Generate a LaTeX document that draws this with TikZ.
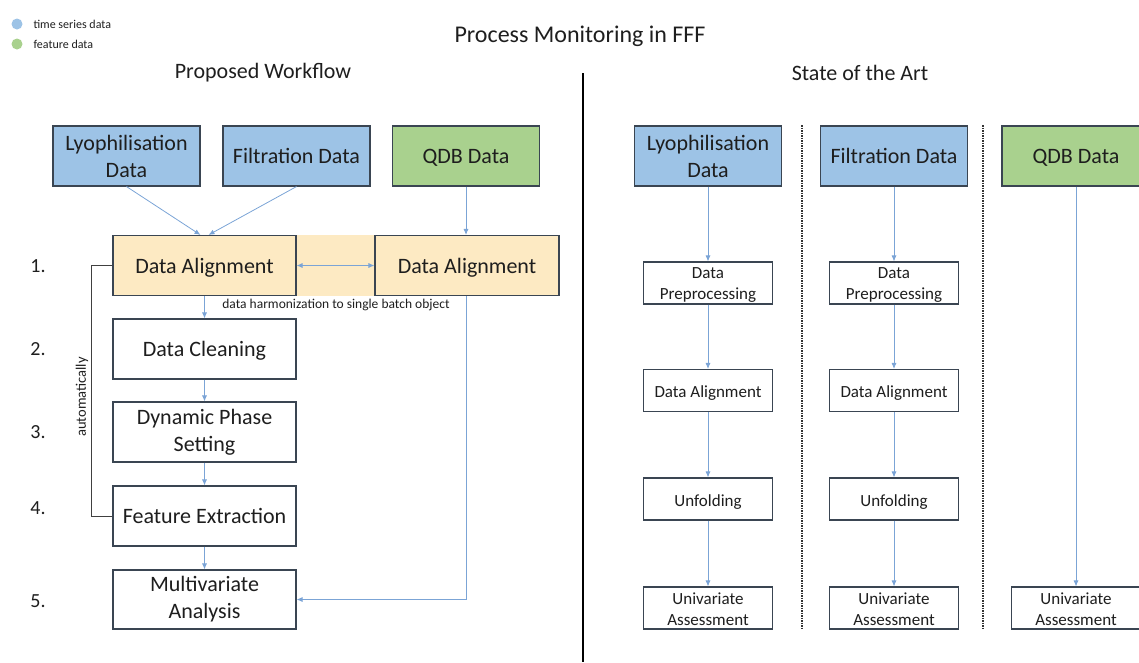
\documentclass[tikz,border=0pt]{standalone}
\usepackage{fontspec}
\setmainfont{Carlito}
\usetikzlibrary{arrows.meta,calc}
\definecolor{tsblue}{HTML}{9DC3E6}
\definecolor{ftgreen}{HTML}{A9D18E}
\definecolor{bandfill}{HTML}{FDEAC3}
\definecolor{boxline}{HTML}{3A4552}
\definecolor{arrowblue}{HTML}{7BA4D6}
\definecolor{txt}{HTML}{1E1E1E}
\tikzset{
  box/.style={draw=boxline, line width=1.1pt, align=center, inner sep=2pt, text=txt},
  bigbox/.style={box, minimum width=147pt, minimum height=60pt, font=\fontsize{22}{27}\selectfont},
  stagebox/.style={box, fill=white, minimum width=183pt, minimum height=60pt, font=\fontsize{22}{27}\selectfont},
  smallbox/.style={box, fill=white, minimum width=129pt, minimum height=42pt, font=\fontsize{17}{21}\selectfont},
  twolinesmall/.style={smallbox, inner ysep=0pt},
  onelinebig/.style={text height=19pt, text depth=4pt},
  onelinesmall/.style={text height=17pt, text depth=2.5pt},
  arr/.style={draw=arrowblue, line width=0.8pt, -{Latex[length=6pt,width=5pt]}},
  dblarr/.style={draw=arrowblue, line width=0.8pt, {Latex[length=6pt,width=5pt]}-{Latex[length=6pt,width=5pt]}},
  loopline/.style={draw=black!75, line width=0.8pt},
  sep/.style={draw=black!80, line width=1.1pt, dash pattern=on 1.5pt off 1pt},
  numlabel/.style={text=txt, font=\fontsize{20}{24}\selectfont},
  heading/.style={text=txt, font=\fontsize{22}{26}\selectfont},
  legendtext/.style={text=txt, font=\fontsize{12}{14}\selectfont, anchor=west}
}
\newcommand{\upstrut}{\rule{0pt}{15pt}}
\begin{document}
\begin{tikzpicture}[x=1pt,y=-1pt]
\useasboundingbox (0,0) rectangle (1139,662);
\clip (0,0) rectangle (1139,662);

% legend
\fill[tsblue] (17,24) circle (5.5);
\node[legendtext] (lg1) at (30,24) {time series data};
\fill[ftgreen] (17,44) circle (5.5);
\node[legendtext] (lg2) at (30,44) {feature data};

% headings
\node[text=txt, font=\fontsize{24}{28}\selectfont] (title) at (580,36) {Process Monitoring in FFF};
\node[heading] (hleft) at (263,73) {Proposed Workflow};
\node[heading] (hright) at (860,73) {State of the Art};

% main separator
\draw[black, line width=2pt] (583,73) -- (583,662);

% ---------- Proposed workflow ----------
\node[bigbox, fill=tsblue] (lyo) at (126.5,156) {Lyophilisation\\Data};
\node[bigbox, onelinebig, fill=tsblue] (filt) at (296.5,156) {Filtration Data};
\node[bigbox, onelinebig, fill=ftgreen] (qdb) at (466,156) {QDB Data};

\fill[bandfill] (113,235) rectangle (559,296);
\node[stagebox, onelinebig, fill=bandfill] (da1) at (204.5,265.5) {Data Alignment};
\node[stagebox, onelinebig, fill=bandfill, minimum width=184pt] (da2) at (467,265.5) {Data Alignment};
\node[stagebox, onelinebig] (clean) at (204.5,349) {Data Cleaning};
\node[stagebox] (dyn) at (204.5,432) {Dynamic Phase\\Setting};
\node[stagebox, onelinebig] (feat) at (204.5,516) {Feature Extraction};
\node[stagebox, minimum height=59pt] (mva) at (204.5,599.5) {Multivariate\\Analysis};

\draw[arr] (lyo.south) -- ([xshift=-4pt]da1.north);
\draw[arr] (filt.south) -- ([xshift=4pt]da1.north);
\draw[arr] (qdb.south) -- ([xshift=-1pt]da2.north);
\draw[dblarr] (da1.east) -- (da2.west);
\draw[arr] (da1.south) -- (clean.north);
\draw[arr] (clean.south) -- (dyn.north);
\draw[arr] (dyn.south) -- (feat.north);
\draw[arr] (feat.south) -- (mva.north);
\draw[arr] ([xshift=-1pt]da2.south) -- ([xshift=-1pt]da2.south |- mva.east) -- (mva.east);

\node[text=txt, font=\fontsize{13.5}{15}\selectfont] (harm) at (336,305) {data harmonization to single batch object};

\draw[loopline] (da1.west) -- ++(-21,0) |- (feat.west);
\node[text=txt, font=\fontsize{14.5}{16}\selectfont, rotate=90] (auto) at (82,397) {automatically};

\node[numlabel] (n1) at (38,266) {1.};
\node[numlabel] (n2) at (38,349) {2.};
\node[numlabel] (n3) at (38,432) {3.};
\node[numlabel] (n4) at (38,508) {4.};
\node[numlabel] (n5) at (38,601) {5.};

% ---------- State of the art ----------
\draw[sep] (802,125) -- (802,629);
\draw[sep] (983,125) -- (983,629);

\node[bigbox, fill=tsblue] (rlyo) at (708,156) {Lyophilisation\\Data};
\node[bigbox, onelinebig, fill=tsblue] (rfilt) at (894,156) {Filtration Data};
\node[bigbox, onelinebig, fill=ftgreen, minimum width=148pt] (rqdb) at (1076,156) {QDB Data};

\node[twolinesmall] (lpre) at (708,283) {\upstrut Data\\Preprocessing};
\node[smallbox, onelinesmall] (lal) at (708,390.5) {Data Alignment};
\node[smallbox, onelinesmall] (lunf) at (708,499) {Unfolding};
\node[twolinesmall] (luni) at (708,608) {\upstrut Univariate\\Assessment};

\node[twolinesmall] (fpre) at (894,283) {\upstrut Data\\Preprocessing};
\node[smallbox, onelinesmall] (fal) at (894,390.5) {Data Alignment};
\node[smallbox, onelinesmall] (funf) at (894,499) {Unfolding};
\node[twolinesmall] (funi) at (894,608) {\upstrut Univariate\\Assessment};

\node[twolinesmall] (quni) at (1076,608) {\upstrut Univariate\\Assessment};

\draw[arr] (rlyo.south) -- (lpre.north);
\draw[arr] (lpre.south) -- (lal.north);
\draw[arr] (lal.south) -- (lunf.north);
\draw[arr] (lunf.south) -- (luni.north);

\draw[arr] (rfilt.south) -- (fpre.north);
\draw[arr] (fpre.south) -- (fal.north);
\draw[arr] (fal.south) -- (funf.north);
\draw[arr] (funf.south) -- (funi.north);

\draw[arr] (rqdb.south) -- (quni.north);
\end{tikzpicture}
\end{document}
